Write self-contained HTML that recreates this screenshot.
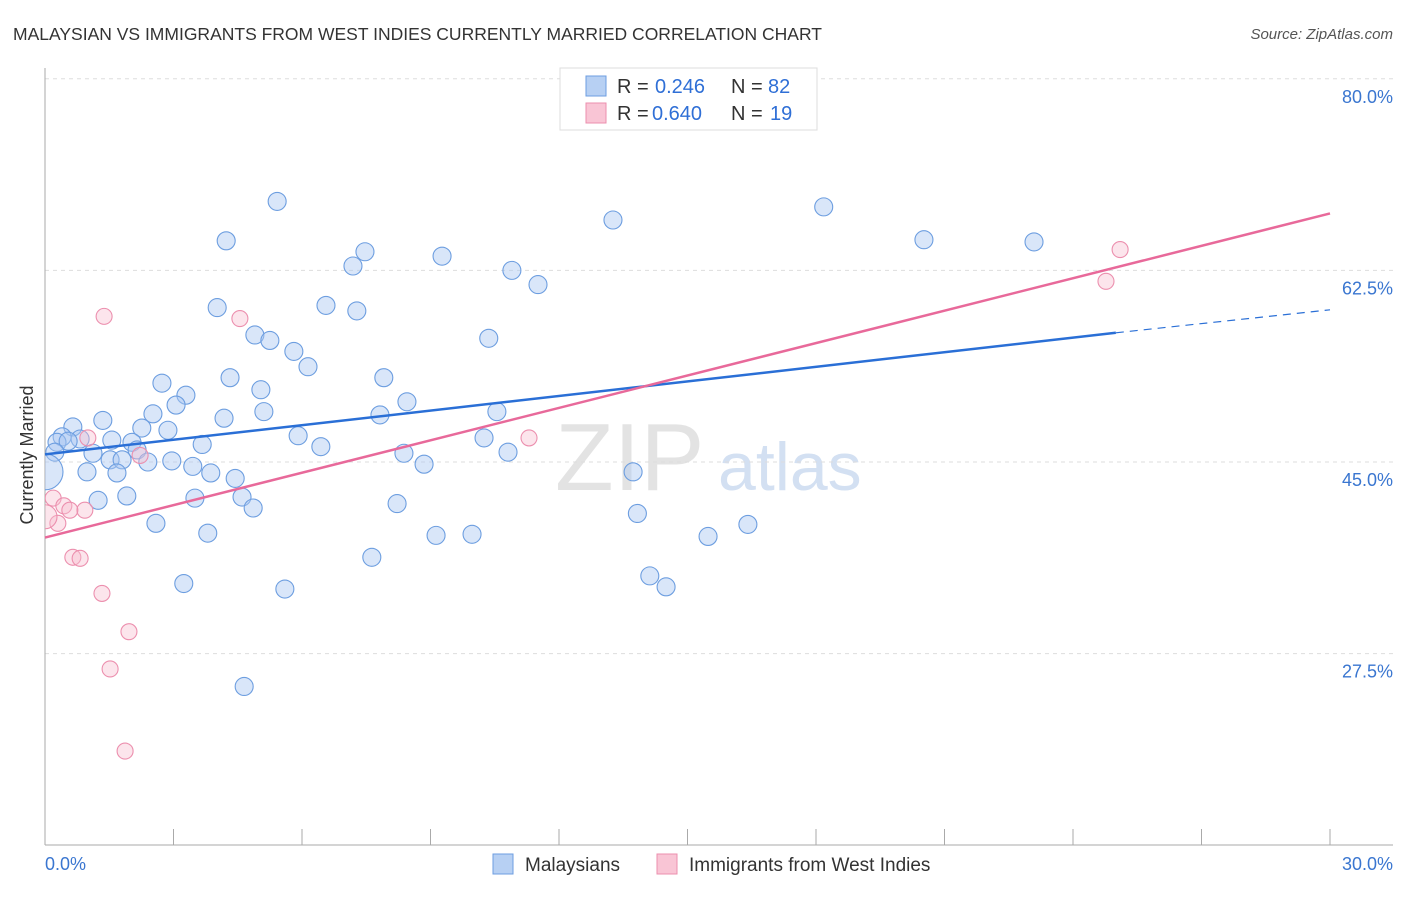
<!DOCTYPE html>
<html><head><meta charset="utf-8"><style>
body{margin:0;background:#fff;font-family:"Liberation Sans",sans-serif;}
svg text{font-family:"Liberation Sans",sans-serif;}
</style></head><body>
<svg id="chart" width="1406" height="892" xmlns="http://www.w3.org/2000/svg">
<defs><clipPath id="plotclip"><rect x="45" y="60" width="1360" height="785"/></clipPath></defs>
<text x="13" y="40" font-size="17.5" fill="#333">MALAYSIAN VS IMMIGRANTS FROM WEST INDIES CURRENTLY MARRIED CORRELATION CHART</text>
<text x="1393" y="39" font-size="15" fill="#555" text-anchor="end" font-style="italic">Source: ZipAtlas.com</text>
<text transform="translate(33,455) rotate(-90)" font-size="18" fill="#333" text-anchor="middle">Currently Married</text>
<g><text x="555" y="490" font-size="96" fill="#ddd" font-family="Liberation Serif" opacity="0.8">ZIP</text><text x="718" y="490" font-size="68" fill="#c9d9ef" opacity="0.8">atlas</text></g>
<g id="grid"></g><g id="axes"></g><g id="pts" clip-path="url(#plotclip)"></g><g id="lines"></g>
<g>
<rect x="560" y="68" width="257" height="62" fill="#fff" stroke="#ddd"/>
<rect x="586" y="76" width="20" height="20" fill="#b7d0f3" stroke="#6d9ee0"/>
<text x="617" y="93" font-size="20" fill="#333">R = </text><text x="655" y="93" font-size="20" fill="#2f6fd6">0.246</text>
<text x="731" y="93" font-size="20" fill="#333">N = </text><text x="768" y="93" font-size="20" fill="#2f6fd6">82</text>
<rect x="586" y="103" width="20" height="20" fill="#f9c5d5" stroke="#ec8fae"/>
<text x="617" y="120" font-size="20" fill="#333">R = </text><text x="652" y="120" font-size="20" fill="#2f6fd6">0.640</text>
<text x="731" y="120" font-size="20" fill="#333">N = </text><text x="770" y="120" font-size="20" fill="#2f6fd6">19</text>
</g>
<g>
<rect x="493" y="854" width="20" height="20" fill="#b7d0f3" stroke="#6d9ee0"/>
<text x="525" y="871" font-size="19" fill="#333">Malaysians</text>
<rect x="657" y="854" width="20" height="20" fill="#f9c5d5" stroke="#ec8fae"/>
<text x="689" y="871" font-size="19" fill="#333">Immigrants from West Indies</text>
</g>
</svg>
<script>
const yTicks=[80,62.5,45,27.5];
const xTickLabels=["0.0%","30.0%"];
const blueX=[5.42,4.23,7.47,7.19,9.27,10.9,11.51,13.26,18.18,20.52,23.09,4.02,6.56,7.28,4.9,5.25,10.36,5.81,6.14,2.73,4.32,5.04,7.91,3.29,3.06,2.52,5.11,4.18,8.45,7.82,10.55,1.35,0.65,2.26,2.87,0.4,0.82,1.56,2.03,0.28,0.54,5.91,3.67,6.44,10.25,1.12,0.23,2.15,8.38,10.81,1.52,1.8,2.4,2.96,3.45,8.85,0.98,1.68,3.87,4.44,13.73,0.0,1.24,1.91,3.5,4.6,4.86,8.22,2.59,13.83,16.41,3.8,9.13,9.97,15.48,7.63,14.12,3.24,14.5,5.6,4.65];
const blueY=[68.8,65.2,64.2,62.9,63.8,62.5,61.2,67.1,68.3,65.3,65.1,59.1,59.3,58.8,56.6,56.1,56.3,55.1,53.7,52.2,52.7,51.6,52.7,51.1,50.2,49.4,49.6,49.0,50.5,49.3,49.6,48.8,48.2,48.1,47.9,47.3,47.1,47.0,46.8,46.8,46.9,47.4,46.6,46.4,47.2,45.8,45.9,46.1,45.8,45.9,45.2,45.2,45.0,45.1,44.6,44.8,44.1,44.0,44.0,43.5,44.1,44.1,41.5,41.9,41.7,41.8,40.8,41.2,39.4,40.3,39.3,38.5,38.3,38.4,38.2,36.3,34.6,33.9,33.6,33.4,24.5];
const blueR=[9,9,9,9,9,9,9,9,9,9,9,9,9,9,9,9,9,9,9,9,9,9,9,9,9,9,9,9,9,9,9,9,9,9,9,9,9,9,9,9,9,9,9,9,9,9,9,9,9,9,9,9,9,9,9,9,9,9,9,9,9,18,9,9,9,9,9,9,9,9,9,9,9,9,9,9,9,9,9,9,9];
const pinkX=[25.1,24.77,1.38,4.55,1.0,2.22,11.3,0.19,0.44,0.3,0.93,0.58,0.0,0.65,0.82,1.33,1.96,1.52,1.87];
const pinkY=[64.4,61.5,58.3,58.1,47.2,45.6,47.2,41.7,41.0,39.4,40.6,40.6,40.0,36.3,36.2,33.0,29.5,26.1,18.6];
const pinkR=[8,8,8,8,8,8,8,8,8,8,8,8,12,8,8,8,8,8,8,8];
const blueTrend=[[0,45.7],[25,56.8],[30,58.9]];
const pinkTrend=[[0,38.1],[30,67.7]];
const NS="http://www.w3.org/2000/svg";
const X=v=>45+v/30*1285, Y=v=>462-(v-45)*10.95;
function mk(t,a,p){const e=document.createElementNS(NS,t);for(const k in a)e.setAttribute(k,a[k]);document.getElementById(p).appendChild(e);return e;}
yTicks.forEach(t=>{
 const l=mk('line',{x1:45,x2:1393,y1:Y(t),y2:Y(t),stroke:'#ddd','stroke-dasharray':'4,4'},'grid');
 
 
 const tx=mk('text',{x:1393,y:Y(t)+24,'font-size':18,fill:'#3a76d0','text-anchor':'end'},'axes');
 tx.textContent=t.toFixed(1)+'%';
 
 
});
const ax=mk('line',{x1:45,x2:45,y1:68,y2:845,stroke:'#aaa'},'axes');


const bx=mk('line',{x1:45,x2:1393,y1:845,y2:845,stroke:'#aaa'},'axes');


for(let i=0;i<=10;i++){const t=mk('line',{x1:X(i*3),x2:X(i*3),y1:829,y2:845,stroke:'#aaa'},'axes');
 
 }
[[0,'start',45],[1,'end',1393]].forEach(([i,a,x])=>{const t=mk('text',{x:x,y:870,'font-size':18,fill:'#3a76d0','text-anchor':a},'axes');t.textContent=xTickLabels[i];
 
 });
blueX.forEach((v,i)=>{const c=mk('circle',{cx:X(v),cy:Y(blueY[i]),r:blueR[i],fill:'rgba(170,200,242,0.45)',stroke:'#6d9ee0','stroke-width':1.1},'pts');
 
 });
pinkX.forEach((v,i)=>{const c=mk('circle',{cx:X(v),cy:Y(pinkY[i]),r:pinkR[i],fill:'rgba(248,190,208,0.4)',stroke:'#ec8fae','stroke-width':1.1},'pts');
 
 });
const b1=mk('line',{x1:X(blueTrend[0][0]),y1:Y(blueTrend[0][1]),x2:X(blueTrend[1][0]),y2:Y(blueTrend[1][1]),stroke:'#2a6fd6','stroke-width':2.5},'lines');


const b2=mk('line',{x1:X(blueTrend[1][0]),y1:Y(blueTrend[1][1]),x2:X(blueTrend[2][0]),y2:Y(blueTrend[2][1]),stroke:'#2a6fd6','stroke-width':1.2,'stroke-dasharray':'8,6'},'lines');


const p1=mk('line',{x1:X(pinkTrend[0][0]),y1:Y(pinkTrend[0][1]),x2:X(pinkTrend[1][0]),y2:Y(pinkTrend[1][1]),stroke:'#e8699a','stroke-width':2.5},'lines');


</script>
</body></html>
